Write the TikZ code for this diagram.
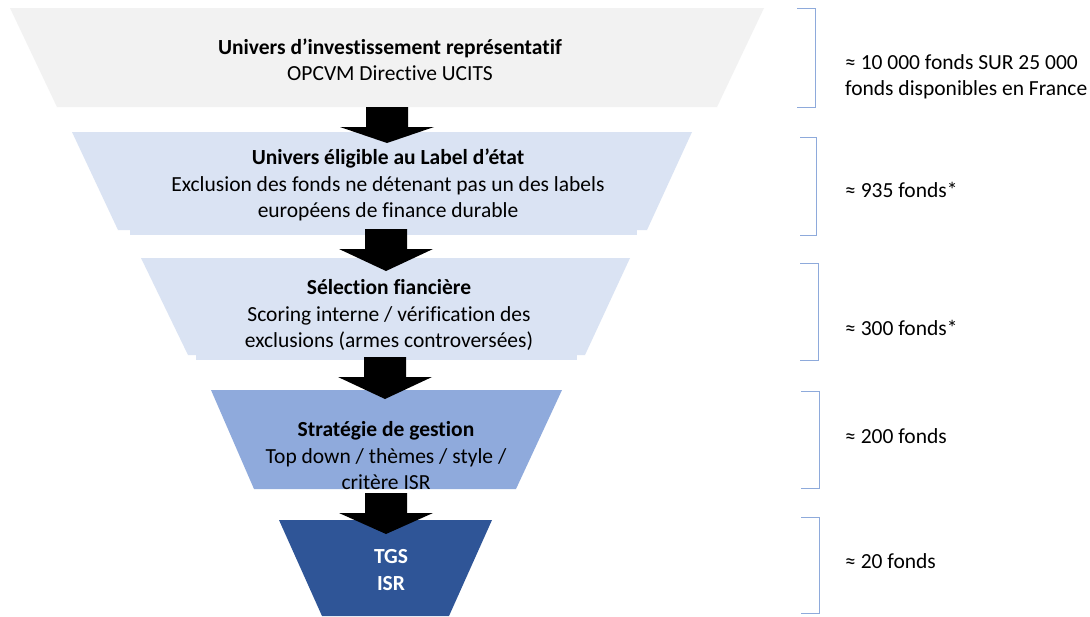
\documentclass[tikz,border=0pt]{standalone}
\usepackage{fontspec}
\setmainfont{Carlito}[Ligatures=NoCommon]
\usetikzlibrary{calc}
\definecolor{grayf}{HTML}{F2F2F2}
\definecolor{lblue}{HTML}{DAE3F3}
\definecolor{mblue}{HTML}{8FAADC}
\definecolor{dblue}{HTML}{2F5597}
\definecolor{brkblue}{HTML}{8EAADB}
\newcommand{\funnelarrow}[2]{%
  \fill[black] ($(#1)+(-21,0)$) -- ($(#1)+(21,0)$) -- ($(#1)+(21,20)$) -- ($(#1)+(47,20)$) -- (#2) -- ($(#1)+(-47,20)$) -- ($(#1)+(-21,20)$) -- cycle;}
\begin{document}
\begin{tikzpicture}[x=1pt,y=-1pt,
  txt/.style={align=center, font=\fontsize{21.5}{26.5}\selectfont, inner sep=0pt},
  side/.style={anchor=west, align=left, font=\fontsize{21.5}{26.5}\selectfont, inner sep=0pt},
  brk/.style={draw=brkblue, line width=1pt}]
\useasboundingbox (0,0) rectangle (1090,616);
\fill[white] (0,0) rectangle (1090,616);
% funnel levels
\fill[grayf] (10,8) -- (764,8) -- (717,107) -- (57,107) -- cycle;
\fill[lblue] (72,132) -- (692,132) -- (647,230) -- (118,230) -- cycle;
\fill[lblue] (130,132) rectangle (637,235);
\fill[lblue] (141,258) -- (630,258) -- (585,355) -- (188,355) -- cycle;
\fill[lblue] (196,258) rectangle (577,360);
\fill[mblue] (211,390) -- (562,390) -- (516,489) -- (254,489) -- cycle;
\fill[dblue] (279,520) -- (492,520) -- (449,616) -- (322,616) -- cycle;
% texts
\node[txt] (n1) at (390,60) {\textbf{Univers d’investissement représentatif}\\OPCVM Directive UCITS};
\node[txt] (n2) at (388,185) {\textbf{Univers éligible au Label d’état}\\Exclusion des fonds ne détenant pas un des labels\\européens de finance durable};
\node[txt] (n3) at (389,315) {\textbf{Sélection fiancière}\\Scoring interne / vérification des\\exclusions (armes controversées)};
\node[txt] (n4) at (386,456) {\textbf{Stratégie de gestion}\\Top down / thèmes / style /\\critère ISR};
\node[txt, text=white, font=\fontsize{21.5}{26.5}\selectfont\bfseries] (n5) at (391,570) {TGS\\ISR};
% arrows
\coordinate (a1) at (387,107); \coordinate (t1) at (387,143);
\coordinate (a2) at (386,229); \coordinate (t2) at (386,271);
\coordinate (a3) at (385,357); \coordinate (t3) at (385,399);
\coordinate (a4) at (386,493); \coordinate (t4) at (386,534);
\funnelarrow{a1}{t1}
\funnelarrow{a2}{t2}
\funnelarrow{a3}{t3}
\funnelarrow{a4}{t4}
% brackets
\draw[brk] (797,8) -- (815,8) -- (815,107) -- (797,107);
\draw[brk] (800,137) -- (816,137) -- (816,235) -- (800,235);
\draw[brk] (800,263) -- (818,263) -- (818,360) -- (800,360);
\draw[brk] (801,391) -- (819,391) -- (819,488) -- (801,488);
\draw[brk] (801,517) -- (819,517) -- (819,613) -- (801,613);
% side labels
\node[side] (c1) at (845,77) {≈ 10 000 fonds SUR 25 000\\fonds disponibles en France};
\node[side] (c2) at (845,190) {≈ 935 fonds*};
\node[side] (c3) at (845,328) {≈ 300 fonds*};
\node[side] (c4) at (845,436) {≈ 200 fonds};
\node[side] (c5) at (845,561) {≈ 20 fonds};
\end{tikzpicture}
\end{document}
